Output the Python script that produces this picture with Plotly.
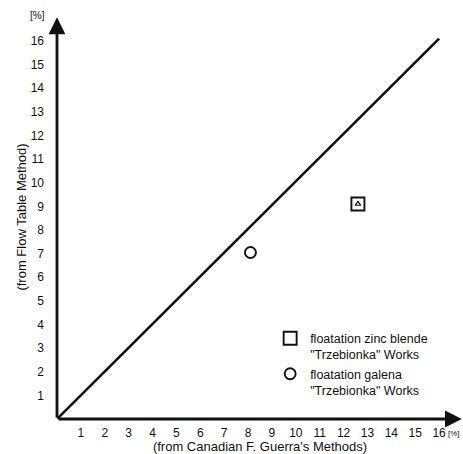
import plotly.graph_objects as go

# ---- data ----
tick_vals = list(range(1, 17))
tick_text = [str(v) for v in tick_vals]

line_x = [0, 16.0]
line_y = [0, 16.1]

zinc_x = [12.6]
zinc_y = [9.1]
zinc_name = "floatation zinc blende<br>\"Trzebionka\" Works"

galena_x = [8.1]
galena_y = [7.05]
galena_name = "floatation galena<br>\"Trzebionka\" Works"

x_title = "(from Canadian F. Guerra's Methods)"
y_title = "(from Flow Table Method)"
unit_label = "[%]"

x_max = 17.0
y_max = 17.1
x_tip = 16.95
y_tip = 17.0

FONT = "Liberation Sans, Arial, sans-serif"
INK = "#111111"

fig = go.Figure()

fig.add_trace(go.Scatter(
    x=line_x, y=line_y, mode="lines",
    line=dict(color=INK, width=2.6),
    showlegend=False, hoverinfo="skip"))

fig.add_trace(go.Scatter(
    x=zinc_x, y=zinc_y, mode="markers", name=zinc_name,
    marker=dict(symbol="square-open", size=13, color=INK,
                line=dict(width=1.9, color=INK))))
fig.add_trace(go.Scatter(
    x=zinc_x, y=zinc_y, mode="markers", showlegend=False,
    marker=dict(symbol="triangle-up-open", size=5, color=INK,
                line=dict(width=1.2, color=INK)),
    hoverinfo="skip"))

fig.add_trace(go.Scatter(
    x=galena_x, y=galena_y, mode="markers", name=galena_name,
    marker=dict(symbol="circle-open", size=11, color=INK,
                line=dict(width=1.9, color=INK))))

# axes with arrowheads
fig.add_annotation(x=x_tip, y=0, ax=0, ay=0, xref="x", yref="y",
                   axref="x", ayref="y", text="", showarrow=True,
                   arrowhead=2, arrowsize=1.2, arrowwidth=2.8,
                   arrowcolor=INK, standoff=0)
fig.add_annotation(x=0, y=y_tip, ax=0, ay=0, xref="x", yref="y",
                   axref="x", ayref="y", text="", showarrow=True,
                   arrowhead=2, arrowsize=1.2, arrowwidth=2.8,
                   arrowcolor=INK, standoff=0)

# unit labels
fig.add_annotation(x=-0.049, y=0.998, xref="paper", yref="paper",
                   text=unit_label, showarrow=False,
                   font=dict(family=FONT, size=10, color=INK),
                   xanchor="center", yanchor="middle")
fig.add_annotation(x=0.978, y=-0.035, xref="paper", yref="paper",
                   text=unit_label, showarrow=False,
                   font=dict(family=FONT, size=8, color=INK),
                   xanchor="center", yanchor="middle")

axis_common = dict(
    tickvals=tick_vals, ticktext=tick_text, automargin=False,
    showgrid=False, zeroline=False, showline=False,
    ticks="", tickfont=dict(family=FONT, size=12, color=INK),
)

fig.update_layout(
    width=463, height=454,
    margin=dict(l=57, r=0, t=15, b=35),
    paper_bgcolor="white", plot_bgcolor="white",
    font=dict(family=FONT, size=12, color=INK),
    xaxis=dict(range=[0, x_max], ticklabelstandoff=5,
               title=dict(text=x_title, standoff=2,
                          font=dict(family=FONT, size=13, color=INK)),
               **axis_common),
    yaxis=dict(range=[0, y_max], ticklabelstandoff=12,
               title=dict(text=y_title, standoff=1,
                          font=dict(family=FONT, size=13, color=INK)),
               **axis_common),
    legend=dict(x=0.525, y=0.236, xanchor="left", yanchor="top",
                valign="top", bgcolor="rgba(0,0,0,0)",
                font=dict(family=FONT, size=12.5, color=INK),
                tracegroupgap=3, itemwidth=30),
    showlegend=True,
)

fig.write_html("out.html",
               config={"displayModeBar": False},
               post_script="document.body.style.margin='0';")
